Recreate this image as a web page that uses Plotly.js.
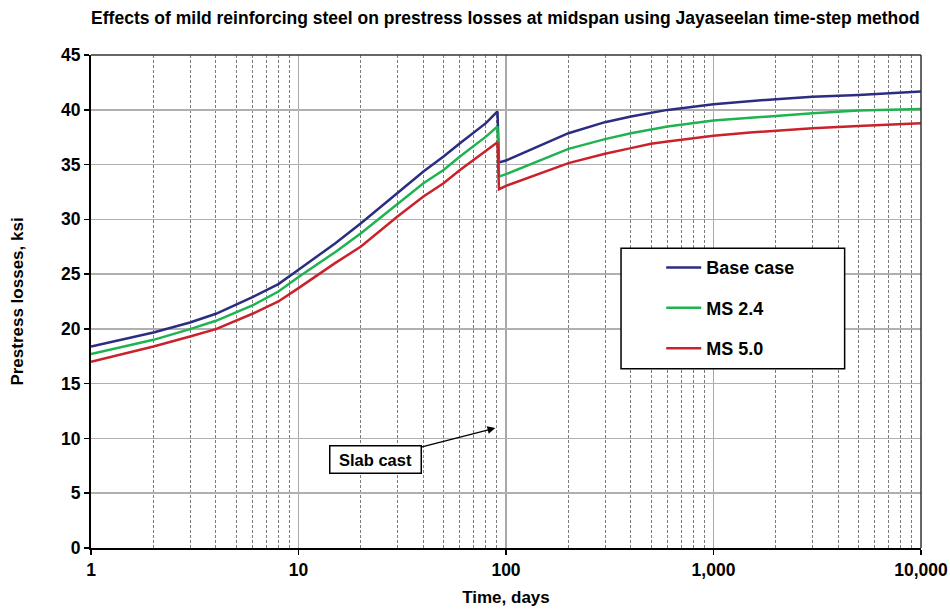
<!DOCTYPE html>
<html>
<head>
<meta charset="utf-8">
<script src="https://cdn.plot.ly/plotly-3.0.1.min.js"></script>
<style>html,body{margin:0;padding:0;background:#fff;}#chart{width:950px;height:609px;}</style>
</head>
<body>
<div id="chart"></div>
<script>
const timeDays = [1,2,3,4,6,8,10,15,20,30,40,50,60,80,91,92.5,100,200,300,400,500,600,1000,1500,2000,3000,5000,10000];
const baseCase = [18.4,19.67,20.58,21.38,22.9,24.09,25.4,27.8,29.65,32.39,34.36,35.73,36.95,38.78,39.85,35.2,35.37,37.86,38.87,39.38,39.74,39.99,40.51,40.81,40.97,41.2,41.36,41.66];
const ms24 = [17.7,19.0,19.98,20.74,22.14,23.41,24.73,27.0,28.74,31.41,33.3,34.5,35.73,37.55,38.47,33.9,34.12,36.43,37.32,37.86,38.23,38.47,39.02,39.23,39.44,39.69,39.93,40.08];
const ms50 = [17.0,18.4,19.3,19.98,21.38,22.5,23.72,26.0,27.52,30.26,32.08,33.3,34.5,36.3,37.04,32.75,33.06,35.13,35.98,36.5,36.89,37.1,37.62,37.92,38.08,38.32,38.53,38.77];
const seriesNames = ["Base case","MS 2.4","MS 5.0"];
const seriesColors = ["#2b2d80","#1fb350","#c9222b"];
const xTickVals = [1,10,100,1000,10000];
const xTickText = ["1","10","100","1,000","10,000"];
const slabCastDay = 88.8, slabCastLoss = 10.95;

const FONT = "Liberation Sans, Arial, sans-serif";
const allSeries = [baseCase, ms24, ms50];
const traces = allSeries.map((ys,i)=>({
  x: timeDays, y: ys, type: "scatter", mode: "lines", name: seriesNames[i],
  legendgroup: "g"+i,
  line: {color: seriesColors[i], width: 2.5}
}));

const layout = {
  width: 950, height: 609,
  margin: {l: 91, r: 29, t: 55, b: 61},
  paper_bgcolor: "#fff", plot_bgcolor: "#fff",
  font: {family: FONT, size: 17, color: "#000", weight: "bold"},
  title: {text: "Effects of mild reinforcing steel on prestress losses at midspan using Jayaseelan time-step method",
          font: {family: FONT, size: 17.5, weight: "bold", color: "#000"}, x: 0.532, xanchor: "center", y: 0.97, yanchor: "middle"},
  showlegend: true,
  legend: {x: 0.687, xanchor: "left", y: 0.606, yanchor: "top", bgcolor: "rgba(0,0,0,0)", borderwidth: 0,
           itemwidth: 35,
           font: {family: FONT, size: 18, weight: "bold", color: "#000"}, tracegroupgap: 14, traceorder: "grouped"},
  xaxis: {type: "log", range: [0, 4], tickvals: xTickVals, ticktext: xTickText,
          showline: true, linecolor: "#000", linewidth: 2, mirror: false,
          ticks: "outside", ticklen: 5, tickwidth: 1.5, tickcolor: "#000",
          showgrid: true, gridcolor: "#a8a8a8", gridwidth: 1.5,
          minor: {dtick: "D1", showgrid: true, gridcolor: "#7a7a7a", gridwidth: 1, griddash: "3px,2px", ticks: ""},
          tickfont: {family: FONT, size: 17.5, weight: "bold"},
          title: {text: "Time, days", font: {family: FONT, size: 17, weight: "bold"}, standoff: 12},
          zeroline: false},
  yaxis: {range: [0, 45], dtick: 5, showline: true, linecolor: "#000", linewidth: 2, mirror: false,
          ticks: "outside", ticklen: 5, tickwidth: 1.5, tickcolor: "#000",
          showgrid: true, gridcolor: "#b0b0b0", gridwidth: 1.5, zeroline: false,
          tickfont: {family: FONT, size: 17.5, weight: "bold"},
          title: {text: "Prestress losses, ksi", font: {family: FONT, size: 17, weight: "bold"}, standoff: 33}},
  shapes: [
    {type: "line", xref: "paper", yref: "paper", x0: 0, x1: 1, y0: 1, y1: 1, line: {color: "#333", width: 1.5}},
    {type: "line", xref: "paper", yref: "paper", x0: 1, x1: 1, y0: 0, y1: 1, line: {color: "#333", width: 1.5}},
    {type: "rect", xref: "paper", yref: "paper", x0: 0.6386, x1: 0.908, y0: 0.3635, y1: 0.608,
     line: {color: "#000", width: 1.5}, fillcolor: "#fff", layer: "above"}
  ],
  annotations: [
    {x: Math.log10(slabCastDay), y: slabCastLoss, xref: "x", yref: "y", text: "Slab cast",
     showarrow: true, arrowhead: 2, arrowsize: 1.2, arrowwidth: 1.3, arrowcolor: "#000",
     ax: -120, ay: 31, bordercolor: "#000", borderwidth: 1.5, borderpad: 3, bgcolor: "#fff",
     width: 84, height: 20, font: {family: FONT, size: 16.5, weight: "bold", color: "#000"}}
  ]
};

Plotly.newPlot("chart", traces, layout, {displayModeBar: false, staticPlot: true});
</script>
</body>
</html>
